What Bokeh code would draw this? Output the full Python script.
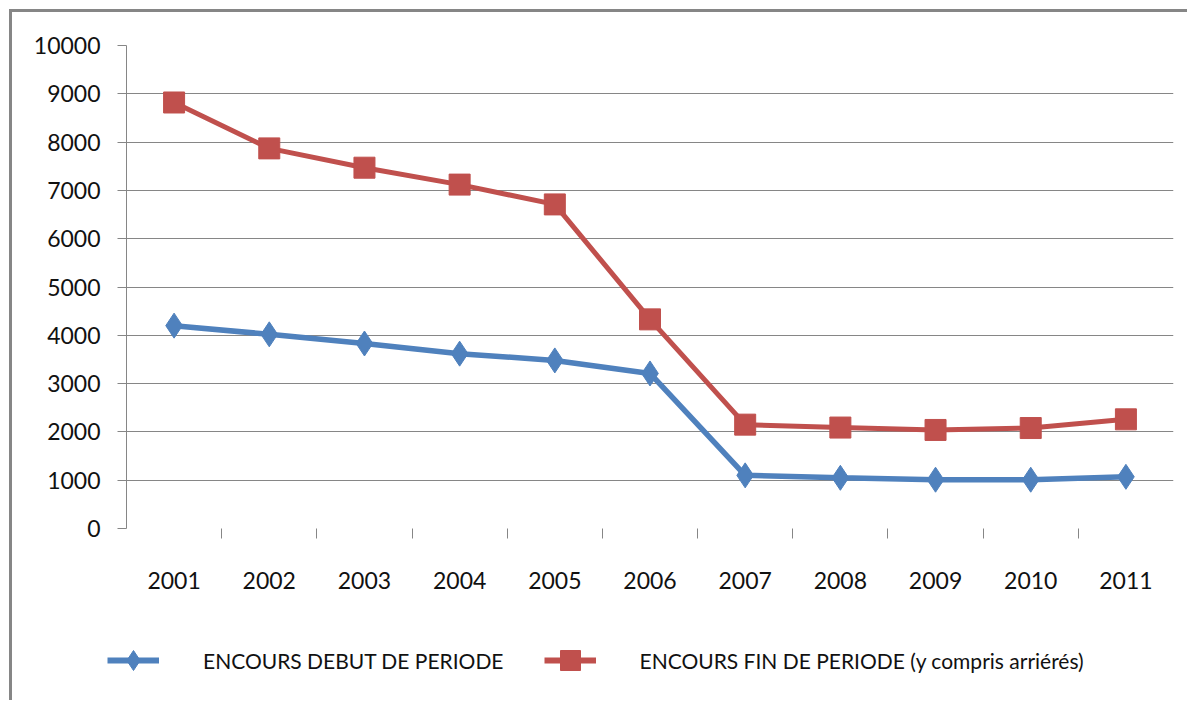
from bokeh.plotting import figure
from bokeh.layouts import column
from bokeh.models import Range1d, FixedTicker, Legend, LegendItem
from bokeh.embed import file_html
from bokeh.resources import INLINE

years = ["2001", "2002", "2003", "2004", "2005", "2006", "2007", "2008", "2009", "2010", "2011"]
debut = [4200, 4020, 3830, 3620, 3480, 3210, 1100, 1050, 1010, 1010, 1070]
fin = [8820, 7870, 7470, 7120, 6710, 4330, 2150, 2090, 2040, 2080, 2260]
y_ticks = [0, 1000, 2000, 3000, 4000, 5000, 6000, 7000, 8000, 9000, 10000]
label_debut = "ENCOURS DEBUT DE PERIODE"
label_fin = "ENCOURS FIN DE PERIODE (y compris arriérés)"

FONT = "Lato"
BLUE = "#4F81BD"
RED = "#C0504D"
GRID = "#868686"
TXT = "#111111"

xs = list(range(1, len(years) + 1))

p = figure(width=1175, height=586, output_backend="svg", toolbar_location=None,
           x_range=Range1d(0.5, len(years) + 0.5), y_range=Range1d(0, 10000),
           min_border_left=114, min_border_right=14, min_border_top=33, min_border_bottom=70)
p.outline_line_color = None

# y axis
p.yaxis.ticker = FixedTicker(ticks=y_ticks)
p.yaxis.axis_line_color = GRID
p.yaxis.major_tick_line_color = GRID
p.yaxis.major_tick_out = 9
p.yaxis.major_tick_in = 0
p.yaxis.minor_tick_line_color = None
p.yaxis.major_label_standoff = 17
p.yaxis.major_label_text_font = FONT
p.yaxis.major_label_text_font_size = "23px"
p.yaxis.major_label_text_color = TXT

# x axis
p.xaxis.ticker = FixedTicker(ticks=xs, minor_ticks=[x + 0.5 for x in xs[:-1]])
p.xaxis.major_label_overrides = {x: y for x, y in zip(xs, years)}
p.xaxis.axis_line_color = None
p.xaxis.major_tick_line_color = None
p.xaxis.major_tick_out = 0
p.xaxis.minor_tick_line_color = GRID
p.xaxis.minor_tick_out = 10
p.xaxis.minor_tick_in = 0
p.xaxis.major_label_standoff = 33
p.xaxis.major_label_text_font = FONT
p.xaxis.major_label_text_font_size = "23px"
p.xaxis.major_label_text_color = TXT

# grid
p.xgrid.grid_line_color = None
p.ygrid.ticker = FixedTicker(ticks=y_ticks[1:-1])
p.ygrid.grid_line_color = GRID
p.ygrid.grid_line_width = 1

# series
p.line(xs, fin, line_color=RED, line_width=5)
p.scatter(xs, fin, marker="square", size=21, fill_color=RED, line_color=RED)
p.line(xs, debut, line_color=BLUE, line_width=5.5)
p.scatter(xs, debut, marker="diamond", size=25, fill_color=BLUE, line_color=BLUE)

# legend strip (its renderers sit outside its visible range; only the legend shows)
q = figure(width=1175, height=102, output_backend="svg", toolbar_location=None,
           x_range=Range1d(100, 101), y_range=Range1d(100000, 100001),
           min_border_left=0, min_border_right=0, min_border_top=0, min_border_bottom=0)
q.frame_align = False
q.axis.visible = False
q.grid.grid_line_color = None
q.outline_line_color = None
ql_deb = q.line(xs, debut, line_color=BLUE, line_width=6)
qm_deb = q.scatter(xs, debut, marker="diamond", size=24, fill_color=BLUE, line_color=BLUE)
ql_fin = q.line(xs, fin, line_color=RED, line_width=6)
qm_fin = q.scatter(xs, fin, marker="square", size=21, fill_color=RED, line_color=RED)

legend = Legend(items=[LegendItem(label=label_debut, renderers=[ql_deb, qm_deb]),
                       LegendItem(label=label_fin, renderers=[ql_fin, qm_fin])],
                orientation="horizontal", location=(95, 15),
                glyph_width=52, glyph_height=50, label_standoff=44, spacing=40,
                padding=0, margin=0, border_line_color=None, background_fill_alpha=0,
                label_text_font=FONT, label_text_font_size="21px", label_text_color=TXT)
q.add_layout(legend, "center")

layout = column(p, q, spacing=0, margin=(9, 0, 0, 9),
                styles={"border-left": "3px solid #868686", "border-top": "3px solid #868686"})

open("out.html", "w").write(file_html(layout, INLINE))
